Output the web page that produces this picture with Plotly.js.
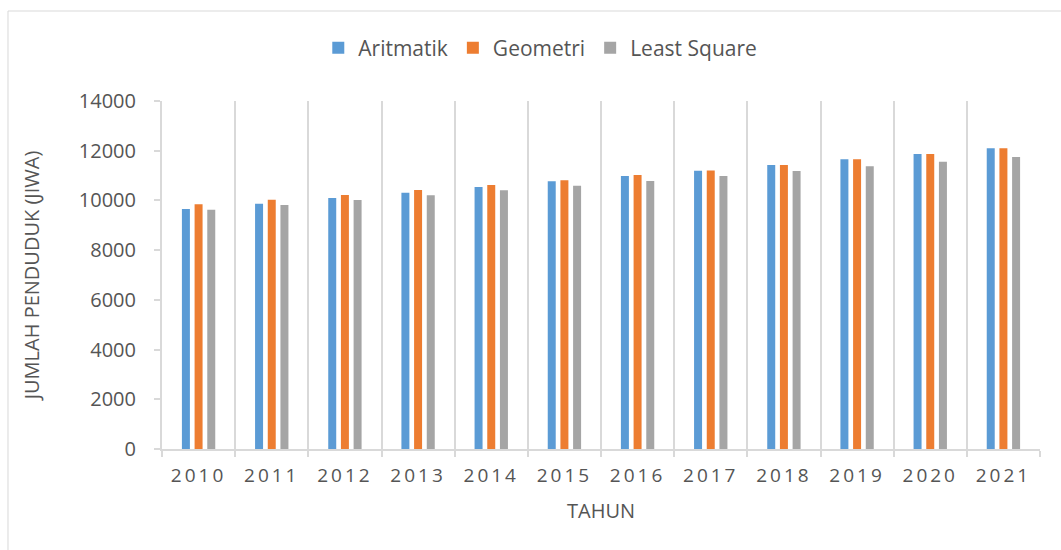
<!DOCTYPE html>
<html>
<head>
<meta charset="utf-8">
<script src="https://cdn.plot.ly/plotly-3.0.1.min.js"></script>
<style>
  html, body { margin: 0; padding: 0; background: #fff; overflow: hidden; }
  #chart { width: 1061px; height: 550px; }
  .xtick text { letter-spacing: 3px; }
</style>
</head>
<body>
<div id="chart"></div>
<script>
const years = ['2010','2011','2012','2013','2014','2015','2016','2017','2018','2019','2020','2021'];
const aritmatik = [9655, 9869, 10097, 10311, 10539, 10768, 10981, 11195, 11424, 11653, 11866, 12095];
const geometri = [9843, 10030, 10217, 10418, 10619, 10808, 11021, 11205, 11424, 11653, 11866, 12095];
const leastSquare = [9628, 9815, 10016, 10204, 10406, 10592, 10780, 10981, 11183, 11371, 11557, 11746];
const yTicks = [0, 2000, 4000, 6000, 8000, 10000, 12000, 14000];

const fontFam = '"Open Sans", "Noto Sans", sans-serif';
const txtColor = '#555555';

const traces = [
  {name: 'Aritmatik', y: aritmatik, color: '#5B9BD5'},
  {name: 'Geometri', y: geometri, color: '#ED7D31'},
  {name: 'Least Square', y: leastSquare, color: '#A5A5A5'}
].map(s => ({
  type: 'bar', name: s.name, x: years, y: s.y,
  marker: {color: s.color}, hoverinfo: 'x+y+name'
}));

const layout = {
  width: 1061, height: 550,
  margin: {l: 162, r: 21, t: 101, b: 101},
  paper_bgcolor: '#fff', plot_bgcolor: '#fff',
  barmode: 'group', bargap: 0.48, bargroupgap: 0.37,
  font: {family: fontFam, color: txtColor, size: 19},
  showlegend: true,
  legend: {
    orientation: 'h', x: 0.178, xanchor: 'left', y: 1.152, yanchor: 'middle',
    font: {family: fontFam, size: 21, color: txtColor},
    bgcolor: 'rgba(0,0,0,0)'
  },
  xaxis: {
    type: 'category', tickson: 'boundaries',
    showgrid: true, gridcolor: '#d9d9d9', gridwidth: 2,
    showline: true, linecolor: '#d9d9d9', linewidth: 2,
    ticks: 'outside', ticklen: 6, tickcolor: '#d9d9d9', tickwidth: 2,
    ticklabelstandoff: 8,
    tickfont: {family: fontFam, size: 19, color: txtColor},
    title: {text: 'TAHUN', font: {family: fontFam, size: 20, color: txtColor}, standoff: 17},
    zeroline: false, fixedrange: true
  },
  yaxis: {
    range: [0, 14000], tickvals: yTicks, ticktext: yTicks.map(String),
    showgrid: false, zeroline: false,
    showline: true, linecolor: '#d9d9d9', linewidth: 2,
    ticks: 'outside', ticklen: 6, tickcolor: '#d9d9d9', tickwidth: 2,
    ticklabelstandoff: 14,
    tickfont: {family: fontFam, size: 20, color: txtColor},
    title: {text: 'JUMLAH PENDUDUK (JIWA)', font: {family: fontFam, size: 20, color: txtColor}, standoff: 34},
    fixedrange: true
  },
  shapes: [{
    type: 'rect', xref: 'paper', yref: 'paper',
    x0: -0.1754, x1: 1.3, y0: -0.6, y1: 1.2586,
    line: {color: '#d9d9d9', width: 1}, fillcolor: 'rgba(0,0,0,0)', layer: 'below'
  }]
};

Plotly.newPlot('chart', traces, layout, {displayModeBar: false, staticPlot: true});
</script>
</body>
</html>
